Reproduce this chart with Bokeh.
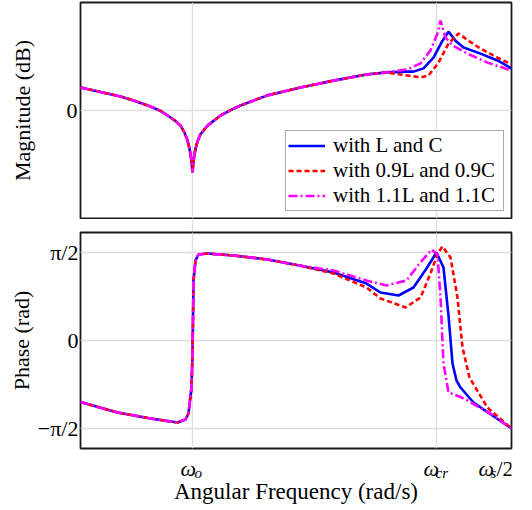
from bokeh.plotting import figure
from bokeh.layouts import column
from bokeh.models import (FixedTicker, Legend, LegendItem, Range1d,
                          CustomJSTickFormatter, ColumnDataSource)
from bokeh.core.properties import value
from bokeh.embed import file_html
from bokeh.resources import INLINE
import math

# ---------------- data (x = position on log-frequency axis, 0 .. omega_s/2) -------------
x_ticks = [112, 356, 431]
x_tick_main = ["ω", "ω", "ω"]
x_tick_sub = ["o", "cr", "s"]
x_tick_tail = ["", "", "/2"]
x_title = "Angular Frequency (rad/s)"

phase_ticks = [-math.pi / 2, 0.0, math.pi / 2]
phase_labels = ["−π/2", "0", "π/2"]

series_labels = ["with L and C", "with 0.9L and 0.9C", "with 1.1L and 1.1C"]

# magnitude (dB), shared part of all three curves
mag_common_x = [0, 20, 40, 53, 70, 80, 87, 95, 100, 104, 107, 109, 111, 112, 113, 115,
                117, 120, 127, 140, 150, 160, 187, 220, 253, 286, 306]
mag_common_y = [6.4, 5.14, 3.9, 2.8, 1.1, -0.1, -1.4, -2.9, -4.2, -6.1, -8.3, -10.6,
                -13.9, -17.2, -13.9, -10.6, -8.6, -6.6, -4.2, -1.4, 0.1, 1.4, 4.2, 6.4,
                8.3, 10.0, 10.6]

mag_lc_x = [326, 333, 343, 353, 362, 368, 375, 383, 400, 417, 431]
mag_lc_y = [10.8, 10.8, 11.7, 14.7, 19.4, 21.9, 19.4, 17.5, 15.8, 13.9, 11.7]

mag_09_x = [320, 340, 348, 358, 368, 378, 388, 400, 417, 431]
mag_09_y = [10.0, 9.2, 9.7, 13.3, 18.6, 21.4, 19.4, 17.2, 14.7, 12.8]

mag_11_x = [327, 340, 350, 357, 360, 365, 372, 387, 407, 431]
mag_11_y = [11.4, 13.1, 16.7, 21.4, 25.0, 20.3, 18.1, 15.8, 13.3, 11.1]

# phase (rad), shared part
ph_common_x = [0, 37, 70, 97, 105, 108, 111, 112, 112.5, 113, 115, 118, 127, 153, 187, 219]
ph_common_y = [-1.10, -1.285, -1.392, -1.464, -1.410, -1.303, -0.839, -0.232, 0.357,
               1.071, 1.428, 1.535, 1.553, 1.517, 1.446, 1.339]

ph_lc_x = [253, 286, 300, 318, 333, 346, 356, 363, 368, 372, 376, 380, 393, 406, 431]
ph_lc_y = [1.214, 1.017, 0.857, 0.803, 0.946, 1.285, 1.571, 1.303, 0.446, -0.411,
           -0.714, -0.839, -1.107, -1.267, -1.571]

ph_09_x = [253, 286, 300, 325, 340, 350, 357, 362, 370, 377, 382, 389, 407, 431]
ph_09_y = [1.196, 0.946, 0.750, 0.589, 0.768, 1.196, 1.553, 1.678, 1.482, 0.768,
           -0.125, -0.660, -1.20, -1.571]

ph_11_x = [253, 286, 306, 326, 339, 351, 357, 360, 363, 368, 379, 387, 399, 410, 431]
ph_11_y = [1.250, 1.071, 0.982, 1.071, 1.374, 1.624, 1.535, 0.768, -0.411, -0.928,
           -1.000, -1.071, -1.196, -1.303, -1.571]

# ---------------- styling -------------
FONT = "Liberation Serif"
colors = ["#0000ff", "#ff0000", "#ff00ff"]
dashes = ["solid", "5 3", "9 3 2 3"]
W = 524
LEFT, RIGHT = 80, 13
GRID = "#dedede"


def style(p):
    p.outline_line_color = "#1a1a1a"
    p.outline_line_width = 1.8
    p.background_fill_color = "white"
    p.border_fill_color = "white"
    p.grid.grid_line_color = GRID
    p.grid.grid_line_width = 1.3
    p.xaxis.visible = False
    p.xgrid.ticker = FixedTicker(ticks=x_ticks)
    ax = p.yaxis[0]
    ax.axis_line_color = None
    ax.major_tick_line_color = None
    ax.minor_tick_line_color = None
    ax.major_tick_out = 0
    ax.major_tick_in = 0
    ax.minor_tick_out = 0
    ax.minor_tick_in = 0
    ax.major_label_text_font = FONT
    ax.major_label_text_font_size = "22px"
    ax.major_label_text_color = "black"
    ax.axis_label_text_font = FONT
    ax.axis_label_text_font_size = "22px"
    ax.axis_label_text_font_style = "normal"
    ax.axis_label_text_color = "black"


def strip(height):
    s = figure(width=W, height=height, x_range=x_range, y_range=Range1d(0, height),
               output_backend="svg", toolbar_location=None,
               min_border_left=LEFT, min_border_right=RIGHT, min_border_top=0,
               min_border_bottom=0)
    s.outline_line_color = None
    s.background_fill_color = "white"
    s.border_fill_color = "white"
    s.grid.visible = False
    s.axis.visible = False
    return s


x_range = Range1d(0, 431)

# ---- magnitude ----
p1 = figure(width=W, height=219, x_range=x_range, y_range=Range1d(-30, 30),
            output_backend="svg", toolbar_location=None,
            min_border_left=LEFT, min_border_right=RIGHT, min_border_top=2,
            min_border_bottom=1)
style(p1)
p1.yaxis.ticker = FixedTicker(ticks=[0])
p1.ygrid.ticker = FixedTicker(ticks=[0])
p1.yaxis.major_label_standoff = 3
p1.yaxis.axis_label = "Magnitude (dB)"
p1.yaxis.axis_label_standoff = 29

mag_series = [(mag_lc_x, mag_lc_y), (mag_09_x, mag_09_y), (mag_11_x, mag_11_y)]
items = []
for (tx, ty), c, d, lab in zip(mag_series, colors, dashes, series_labels):
    r = p1.line(mag_common_x + tx, mag_common_y + ty, line_color=c, line_width=2.6,
                line_dash=d)
    items.append(LegendItem(label=lab, renderers=[r]))

legend = Legend(items=items, location="bottom_right")
legend.label_text_font = FONT
legend.label_text_font_size = "21px"
legend.label_text_color = "black"
legend.glyph_width = 37
legend.glyph_height = 23
legend.label_height = 23
legend.label_width = 168
legend.label_standoff = 8
legend.spacing = -1
legend.padding = 2
legend.margin = 7
legend.border_line_color = "#555555"
legend.border_line_width = 1
legend.background_fill_alpha = 1.0
p1.add_layout(legend)

# ---- gap between the panels: grid lines continue through it ----
GAP_H = 12
gap = strip(GAP_H)
inner_ticks = [t for t in x_ticks if t < x_range.end]
gap.segment(x0=inner_ticks, x1=inner_ticks, y0=[0] * len(inner_ticks),
            y1=[GAP_H] * len(inner_ticks), line_color=GRID, line_width=1.3)

# ---- phase ----
p2 = figure(width=W, height=219, x_range=x_range, y_range=Range1d(-1.928, 1.928),
            output_backend="svg", toolbar_location=None,
            min_border_left=LEFT, min_border_right=RIGHT, min_border_top=1,
            min_border_bottom=2)
style(p2)
p2.yaxis.ticker = FixedTicker(ticks=phase_ticks)
p2.ygrid.ticker = FixedTicker(ticks=phase_ticks)
p2.yaxis.formatter = CustomJSTickFormatter(
    args=dict(tk=phase_ticks, lbl=phase_labels),
    code="""
    let k = 0;
    for (let i = 0; i < tk.length; i++) { if (Math.abs(tk[i] - tick) < 1e-6) k = i; }
    return lbl[k];
""")
p2.yaxis.major_label_standoff = 2
p2.yaxis.axis_label = "Phase (rad)"
p2.yaxis.axis_label_standoff = 1

ph_series = [(ph_lc_x, ph_lc_y), (ph_09_x, ph_09_y), (ph_11_x, ph_11_y)]
for (tx, ty), c, d in zip(ph_series, colors, dashes):
    p2.line(ph_common_x + tx, ph_common_y + ty, line_color=c, line_width=2.6, line_dash=d)

# ---- strip below the phase plot: x tick labels (with subscripts) and axis title ----
STRIP_H = 58
p3 = strip(STRIP_H)

# layout (pixels): horizontal offsets of each tick-label part from its tick,
# and baselines measured up from the bottom of the strip
main_dx = [-12, -13, -33]
sub_dx = [2, -1, -21]
tail_dx = [0, 0, -15]
main_base = 40
sub_base = 36
title_base = 17

main_src = ColumnDataSource(dict(x=x_ticks, y=[main_base] * 3, text=x_tick_main, dx=main_dx))
sub_src = ColumnDataSource(dict(x=x_ticks, y=[sub_base] * 3, text=x_tick_sub, dx=sub_dx))
tail_idx = [i for i, t in enumerate(x_tick_tail) if t]
tail_src = ColumnDataSource(dict(x=[x_ticks[i] for i in tail_idx],
                                 y=[main_base] * len(tail_idx),
                                 text=[x_tick_tail[i] for i in tail_idx],
                                 dx=[tail_dx[i] for i in tail_idx]))

p3.text(x="x", y="y", text="text", x_offset="dx", source=main_src,
        text_font=value(FONT), text_font_style="italic", text_font_size=value("22px"),
        text_color="black", text_align="left", text_baseline="alphabetic")
p3.text(x="x", y="y", text="text", x_offset="dx", source=sub_src,
        text_font=value(FONT), text_font_style="italic", text_font_size=value("15px"),
        text_color="black", text_align="left", text_baseline="alphabetic")
p3.text(x="x", y="y", text="text", x_offset="dx", source=tail_src,
        text_font=value(FONT), text_font_style="normal", text_font_size=value("22px"),
        text_color="black", text_align="left", text_baseline="alphabetic")
p3.text(x=[(x_range.start + x_range.end) / 2], y=[title_base], text=[x_title],
        text_font=value(FONT), text_font_size=value("23px"), text_color="black",
        text_align="center", text_baseline="alphabetic")

layout = column(p1, gap, p2, p3)
open("out.html", "w").write(file_html(layout, INLINE))
